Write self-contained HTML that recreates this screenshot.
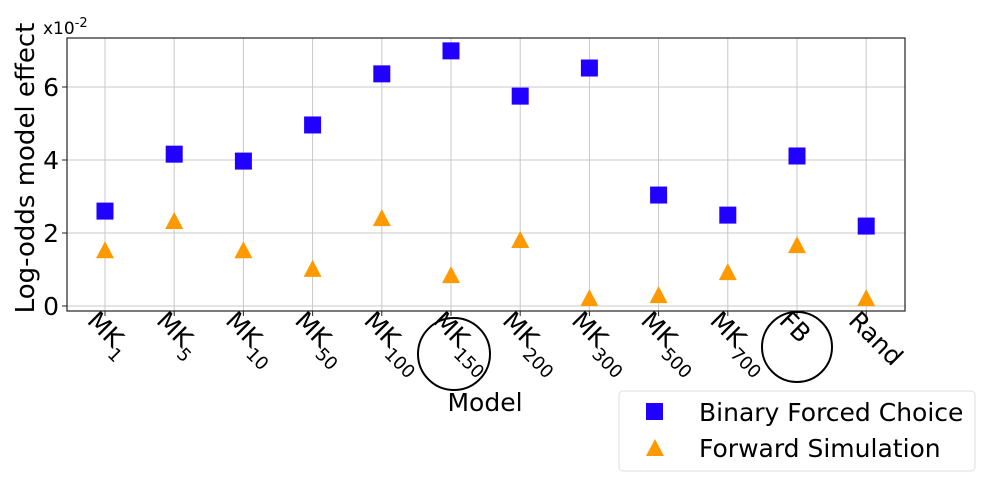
<!DOCTYPE html>
<html><head><meta charset="utf-8"><style>
html,body{margin:0;padding:0;background:#fff}
svg{display:block;font-family:"DejaVu Sans","Liberation Sans",sans-serif}
</style></head><body>
<svg id="chart" width="991" height="485">
<g id="grid"></g>
<rect x="67" y="38" width="838" height="273" fill="none" stroke="#222" stroke-width="1.2"/>
<g id="yticks"></g>
<g id="xticks"></g>
<g id="marks"></g>
<text x="43" y="34" font-size="17">x10<tspan dy="-7" font-size="13">-2</tspan></text>
<text transform="translate(34,168) rotate(-90)" text-anchor="middle" font-size="26">Log-odds model effect</text>
<text x="485" y="411" text-anchor="middle" font-size="25">Model</text>
<circle cx="454" cy="354" r="36" fill="none" stroke="#000" stroke-width="2"/>
<circle cx="797" cy="347" r="35" fill="none" stroke="#000" stroke-width="2"/>
<g>
<rect x="619" y="391" width="356" height="80" rx="4" fill="#fff" stroke="#ddd"/>
<rect x="646" y="403" width="17" height="17" fill="#2200ff"/>
<text x="699" y="421" font-size="25">Binary Forced Choice</text>
<polygon points="655,439 664,456 646,456" fill="#ff9900"/>
<text x="699" y="457" font-size="25">Forward Simulation</text>
</g>
</svg>
<script>
const categories=["1","5","10","50","100","150","200","300","500","700","FB","Rand"];
const binaryValues=[2.6,4.16,3.97,4.96,6.36,6.99,5.75,6.52,3.04,2.49,4.11,2.19];
const forwardValues=[1.5,2.3,1.5,0.99,2.38,0.82,1.78,0.19,0.27,0.9,1.64,0.19];
const yTicks=[0,2,4,6];
const NS="http://www.w3.org/2000/svg";
const x0=105,dx=69.2;
function xs(i){return x0+i*dx;}
function ys(v){return 306-36.5*v;}
function mk(t,a,p){const e=document.createElementNS(NS,t);for(const k in a)e.setAttribute(k,a[k]);p.appendChild(e);return e;}
const grid=document.getElementById('grid'),yt=document.getElementById('yticks'),xt=document.getElementById('xticks'),marks=document.getElementById('marks');
yTicks.forEach(v=>{
 const g=mk('line',{x1:67,x2:905,y1:ys(v),y2:ys(v),stroke:'#c8c8c8','stroke-width':1},grid);
 
 
 const t=mk('line',{x1:62,x2:67,y1:ys(v),y2:ys(v),stroke:'#222'},yt);
 
 
 const l=mk('text',{x:59,y:ys(v)+9,'text-anchor':'end','font-size':25},yt);
 l.textContent=v;
 
 
});
categories.forEach((c,i)=>{
 const x=xs(i);
 const g=mk('line',{x1:x,x2:x,y1:38,y2:311,stroke:'#c8c8c8','stroke-width':1},grid);
 
 
 const t=mk('line',{x1:x,x2:x,y1:311,y2:316,stroke:'#222'},xt);
 
 
 const l=mk('text',{transform:`translate(${x-19},${322}) rotate(45)`,'font-size':25},xt);
 if(c==='FB'||c==='Rand'){l.textContent=c;}
 else{l.textContent='MK';const s=mk('tspan',{dy:9,'font-size':18},l);s.textContent=c;}
 
 
});
binaryValues.forEach((v,i)=>{
 const r=mk('rect',{x:xs(i)-8.5,y:ys(v)-8.5,width:17,height:17,fill:'#2200ff'},marks);
 
 
});
forwardValues.forEach((v,i)=>{
 const x=xs(i),y=ys(v);
 const p=mk('polygon',{points:`${x},${y-10} ${x+9},${y+7} ${x-9},${y+7}`,fill:'#ff9900'},marks);
 
 
});
</script>
</body></html>
